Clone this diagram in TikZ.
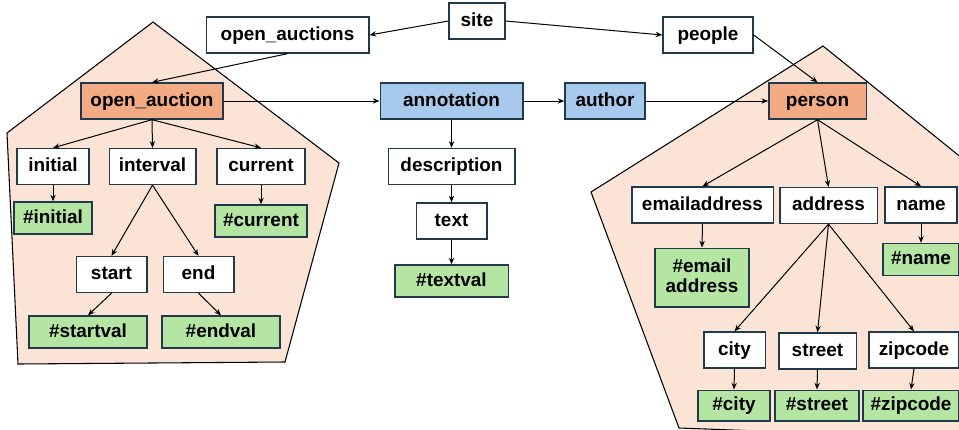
\documentclass[tikz,border=0pt]{standalone}
\usepackage{fontspec}
\setmainfont{Liberation Sans}
\usetikzlibrary{arrows.meta}
\definecolor{bgfill}{HTML}{FBE3D6}
\definecolor{orfill}{HTML}{F2AB85}
\definecolor{blfill}{HTML}{A6C9EC}
\definecolor{grfill}{HTML}{B4E5A2}
\definecolor{bord}{HTML}{203A4C}
\tikzset{
  box/.style={draw=bord, line width=1pt, fill=white, minimum height=27pt, inner sep=1pt,
    text height=10.5pt, text depth=3pt,
    font=\fontsize{14.2}{15}\selectfont\bfseries, align=center},
  orbox/.style={box, fill=orfill},
  blbox/.style={box, fill=blfill},
  grbox/.style={box, fill=grfill, minimum height=24pt},
  region/.style={draw=black, line width=0.8pt, fill=bgfill, line join=miter},
  arr/.style={-{Stealth[length=5pt,width=4pt]}, line width=0.75pt, black},
}
\begin{document}
\begin{tikzpicture}[x=0.75pt, y=-0.75pt]
\useasboundingbox (0,0) rectangle (959,429);
\clip (0,0) rectangle (959,429);
% regions
\draw[region] (153,22) -- (339,163) -- (285,362) -- (18,364) -- (7,133) -- cycle;
\draw[region] (823,46) -- (1004,192) -- (1000,440) -- (679,428) -- (591,192) -- cycle;
% top
\node[box, minimum width=42pt] (site) at (477,21) {site};
\node[box, minimum width=122pt] (oas) at (287.5,35) {open\_auctions};
\node[box, minimum width=67.5pt] (people) at (708,35) {people};
% second row
\node[orbox, minimum width=106.5pt] (oa) at (152,101) {open\_auction};
\node[blbox, minimum width=107pt] (ann) at (451.5,101) {annotation};
\node[blbox, minimum width=60pt] (author) at (605,101) {author};
\node[orbox, minimum width=73pt] (person) at (817.5,101) {person};
% left subtree
\node[box, minimum width=54pt] (initial) at (53,166.5) {initial};
\node[box, minimum width=65pt] (interval) at (152.5,166.5) {interval};
\node[box, minimum width=66pt] (current) at (261,166.5) {current};
\node[grbox, minimum width=58.5pt] (vinitial) at (53,218) {\#initial};
\node[grbox, minimum width=69pt] (vcurrent) at (261,221) {\#current};
\node[box, minimum width=53pt] (start) at (111.5,274.5) {start};
\node[box, minimum width=53pt] (end) at (198.5,274.5) {end};
\node[grbox, minimum width=88.5pt] (vstart) at (88,332) {\#startval};
\node[grbox, minimum width=88.5pt] (vend) at (221,332) {\#endval};
% middle
\node[box, minimum width=95pt] (desc) at (451.5,166.5) {description};
\node[box, minimum width=53pt] (text) at (451.5,221) {text};
\node[grbox, minimum width=85pt] (vtext) at (451.5,281) {\#textval};
% right subtree
\node[box, minimum width=106pt] (email) at (702.5,205) {emailaddress};
\node[box, minimum width=73pt] (address) at (828.5,205.5) {address};
\node[box, minimum width=54pt] (name) at (921,205) {name};
\node[grbox, minimum width=70.5pt, minimum height=44pt, text height=26pt, text depth=3pt] (vemail) at (702,277.5) {\#email\\[0.5pt]address};
\node[grbox, minimum width=57pt] (vname) at (921,259.5) {\#name};
\node[box, minimum width=46pt] (city) at (734.5,350) {city};
\node[box, minimum width=58pt] (street) at (817.5,351) {street};
\node[box, minimum width=67.5pt] (zip) at (914,350) {zipcode};
\node[grbox, minimum width=54pt, minimum height=23pt] (vcity) at (734,405.5) {\#city};
\node[grbox, minimum width=63pt, minimum height=23pt] (vstreet) at (817,405.5) {\#street};
\node[grbox, minimum width=72pt, minimum height=23pt] (vzip) at (911,405.5) {\#zipcode};
% edges
\draw[arr] (site.west) -- (oas.east);
\draw[arr] (site.east) -- (people.west);
\draw[arr] (oas.south) -- (oa.north);
\draw[arr] (people.east) -- (person.north);
\draw[arr] (oa.east) -- (ann.west);
\draw[arr] (ann.east) -- (author.west);
\draw[arr] (author.east) -- (person.west);
\draw[arr] (oa.south) -- (initial.north);
\draw[arr] (oa.south) -- (interval.north);
\draw[arr] (oa.south) -- (current.north);
\draw[arr] (initial.south) -- (vinitial.north);
\draw[arr] (current.south) -- (vcurrent.north);
\draw[arr] (interval.south) -- (start.north);
\draw[arr] (interval.south) -- (end.north);
\draw[arr] (start.south) -- (vstart.north);
\draw[arr] (end.south) -- (vend.north);
\draw[arr] (ann.south) -- (desc.north);
\draw[arr] (desc.south) -- (text.north);
\draw[arr] (text.south) -- (vtext.north);
\draw[arr] (person.south) -- (email.north);
\draw[arr] (person.south) -- (address.north);
\draw[arr] (person.south) -- (name.north);
\draw[arr] (email.south) -- (vemail.north);
\draw[arr] (name.south) -- (vname.north);
\draw[arr] (address.south) -- (city.north);
\draw[arr] (address.south) -- (street.north);
\draw[arr] (address.south) -- (zip.north);
\draw[arr] (city.south) -- (vcity.north);
\draw[arr] (street.south) -- (vstreet.north);
\draw[arr] (zip.south) -- (vzip.north);
\end{tikzpicture}
\end{document}
